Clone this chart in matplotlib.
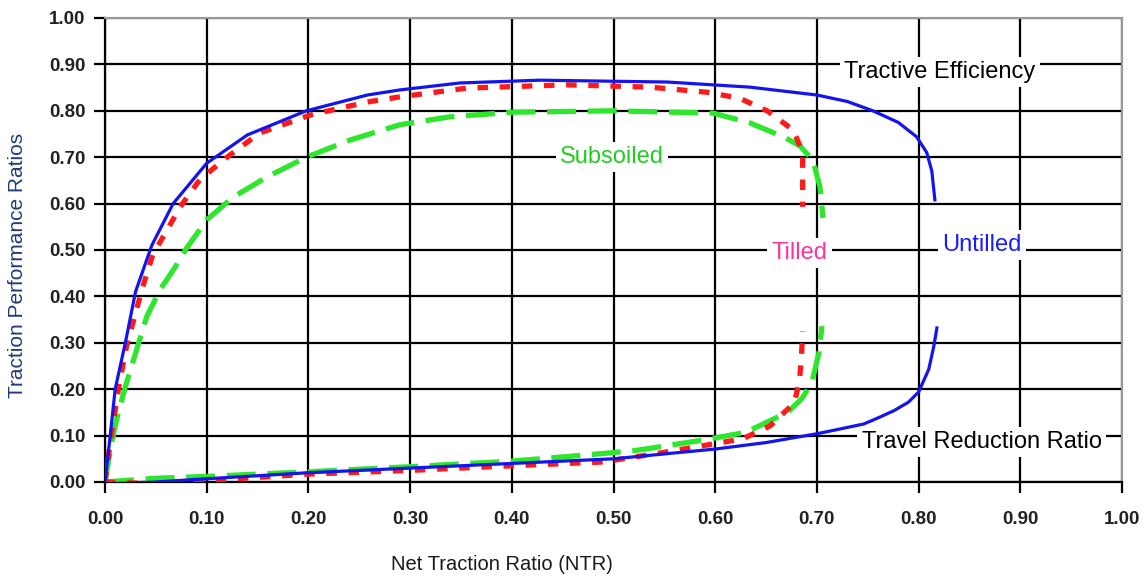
import matplotlib.pyplot as plt

plt.rcParams['font.family'] = ['Liberation Sans', 'DejaVu Sans']

# tractive efficiency curves (NTR, TE)
untilled_te_x = [0, 0.005, 0.01, 0.02, 0.03, 0.046, 0.067, 0.10, 0.14, 0.198, 0.258, 0.29, 0.349, 0.428, 0.553, 0.634, 0.70, 0.73, 0.755, 0.78, 0.798, 0.808, 0.813, 0.816]
untilled_te_y = [0, 0.097, 0.20, 0.30, 0.41, 0.51, 0.60, 0.687, 0.748, 0.80, 0.834, 0.845, 0.86, 0.866, 0.862, 0.851, 0.834, 0.82, 0.80, 0.775, 0.744, 0.71, 0.67, 0.608]
tilled_te_x = [0, 0.005, 0.013, 0.021, 0.037, 0.047, 0.061, 0.074, 0.093, 0.12, 0.152, 0.202, 0.258, 0.29, 0.356, 0.454, 0.536, 0.592, 0.624, 0.651, 0.677, 0.684, 0.686, 0.686, 0.686]
tilled_te_y = [0, 0.084, 0.198, 0.291, 0.42, 0.49, 0.543, 0.593, 0.651, 0.70, 0.752, 0.791, 0.819, 0.83, 0.849, 0.856, 0.851, 0.84, 0.827, 0.80, 0.758, 0.72, 0.70, 0.644, 0.593]
subsoiled_te_x = [0, 0.006, 0.012, 0.02, 0.028, 0.041, 0.054, 0.069, 0.079, 0.10, 0.126, 0.159, 0.198, 0.241, 0.29, 0.339, 0.401, 0.50, 0.598, 0.634, 0.667, 0.683, 0.696, 0.703, 0.706]
subsoiled_te_y = [0, 0.08, 0.14, 0.205, 0.263, 0.356, 0.414, 0.463, 0.50, 0.565, 0.614, 0.657, 0.70, 0.737, 0.77, 0.787, 0.797, 0.80, 0.795, 0.774, 0.744, 0.725, 0.694, 0.636, 0.569]

# travel reduction ratio curves (NTR, TRR)
untilled_trr_x = [0, 0.05, 0.1, 0.2, 0.3, 0.4, 0.5, 0.6, 0.65, 0.7, 0.72, 0.746, 0.76, 0.776, 0.79, 0.8, 0.81, 0.815, 0.818]
untilled_trr_y = [-0.004, 0.0, 0.007, 0.02, 0.03, 0.04, 0.05, 0.071, 0.085, 0.104, 0.113, 0.125, 0.138, 0.154, 0.172, 0.194, 0.243, 0.293, 0.332]
tilled_trr_x = [0, 0.05, 0.1, 0.2, 0.3, 0.4, 0.488, 0.539, 0.59, 0.627, 0.654, 0.678, 0.683, 0.685, 0.686]
tilled_trr_y = [0, -0.004, 0.003, 0.017, 0.025, 0.035, 0.043, 0.06, 0.079, 0.093, 0.121, 0.171, 0.221, 0.279, 0.325]
subsoiled_trr_x = [0, 0.05, 0.1, 0.2, 0.3, 0.4, 0.488, 0.522, 0.59, 0.63, 0.671, 0.685, 0.695, 0.702, 0.705]
subsoiled_trr_y = [0, 0.008, 0.012, 0.022, 0.033, 0.045, 0.061, 0.068, 0.091, 0.107, 0.15, 0.179, 0.214, 0.279, 0.336]

ticks = [0.0, 0.1, 0.2, 0.3, 0.4, 0.5, 0.6, 0.7, 0.8, 0.9, 1.0]
tick_labels = ['%.2f' % t for t in ticks]

fig = plt.figure(figsize=(11.48, 5.81), dpi=100)
ax = fig.add_axes([105/1148, 1-482/581, 1017/1148, 464/581])

blue = '#1414f0'
red = '#ff1a1a'
green = '#2ee62e'

for xs, ys in [(subsoiled_te_x, subsoiled_te_y), (subsoiled_trr_x, subsoiled_trr_y)]:
    ax.plot(xs, ys, color=green, lw=3.8, linestyle=(0, (5.5, 2.2)), dash_capstyle='butt', zorder=3)
for xs, ys in [(tilled_te_x, tilled_te_y), (tilled_trr_x, tilled_trr_y)]:
    ax.plot(xs, ys, color=red, lw=3.8, linestyle=(0, (2, 2.2)), dash_capstyle='butt', zorder=4)
for xs, ys in [(untilled_te_x, untilled_te_y), (untilled_trr_x, untilled_trr_y)]:
    ax.plot(xs, ys, color=blue, lw=2.3, zorder=5)

ax.set_xlim(0, 1)
ax.set_ylim(0, 1)
ax.set_xticks(ticks)
ax.set_yticks(ticks)
ax.set_xticklabels(tick_labels, fontweight='bold')
ax.set_yticklabels(tick_labels, fontweight='bold')
ax.grid(True, color='black', lw=1.6, zorder=1)
ax.set_axisbelow(True)
ax.tick_params(direction='out', length=8, width=1.6, color='black', labelsize=13.5, labelcolor='#222222', pad=13)
ax.tick_params(axis='y', pad=6)
for s in ['top', 'right']:
    ax.spines[s].set_color('#999999')
    ax.spines[s].set_linewidth(1.5)
for s in ['bottom', 'left']:
    ax.spines[s].set_color('black')
    ax.spines[s].set_linewidth(1.6)

box = dict(facecolor='white', edgecolor='none', pad=3)
ax.text(0.821, 0.884, 'Tractive Efficiency', fontsize=17, color='black', ha='center', va='center', bbox=box, zorder=6)
ax.text(0.4985, 0.70, 'Subsoiled', fontsize=17, color='#22cc22', ha='center', va='center', bbox=box, zorder=6)
ax.text(0.683, 0.493, 'Tilled', fontsize=17, color='#ff3399', ha='center', va='center', bbox=box, zorder=6)
ax.text(0.862, 0.511, 'Untilled', fontsize=17, color='#1a1aff', ha='center', va='center', bbox=box, zorder=6)
ax.text(0.862, 0.086, 'Travel Reduction Ratio', fontsize=17, color='black', ha='center', va='center', bbox=box, zorder=6)

fig.text(502/1148, 1-565/581, 'Net Traction Ratio (NTR)', fontsize=14.5, color='#1a1a1a', ha='center', va='center')
fig.text(18/1148, 1-265/581, 'Traction Performance Ratios', fontsize=15, color='#1f3a7a', ha='center', va='center', rotation=90)

fig.savefig('out.png', dpi=100)
